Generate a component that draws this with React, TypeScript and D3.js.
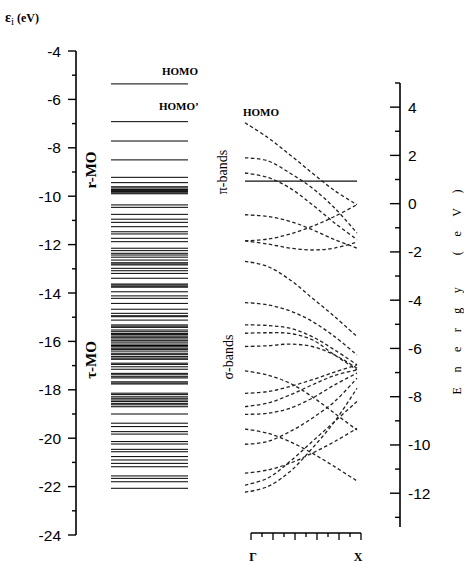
import React from "react";
import * as d3 from "d3";

const W = 464;
const H = 563;

// Molecular-orbital eigenvalues of the cluster (eV), top to bottom
const moLevels = [
  -5.36, -6.92, -7.72, -8.5, -9.22, -9.44, -9.61, -9.66, -9.72, -9.77, -9.81, -9.86, -9.9,
  -10.36, -10.46, -10.75, -10.95, -11.08, -11.26, -11.47, -11.56, -11.74, -11.88,
  -12.15, -12.25, -12.36, -12.43, -12.52, -12.64, -12.75, -12.8, -12.84, -12.98,
  -13.08, -13.19, -13.39, -13.63, -13.67, -13.72, -13.76, -13.95,
  -14.12, -14.22, -14.43, -14.67, -14.84, -14.94, -14.98,
  -15.12, -15.32, -15.37, -15.42, -15.53, -15.6, -15.67, -15.72, -15.78, -15.83, -15.9, -15.97,
  -16.03, -16.11, -16.17, -16.22, -16.28, -16.33, -16.4, -16.49, -16.55, -16.63, -16.69, -16.74,
  -16.9, -16.95, -17.05, -17.15, -17.32, -17.38, -17.46, -17.51, -17.67, -17.72, -17.76,
  -18.14, -18.2, -18.29, -18.35, -18.42, -18.48, -18.56, -18.62, -18.7,
  -19.0, -19.38, -19.52, -19.73, -19.83,
  -20.14, -20.24, -20.46, -20.56, -20.76, -20.9,
  -21.04, -21.18, -21.56, -21.66, -21.8, -22.07,
];
const homoLevel = -5.36;
const homoPrimeLevel = -6.92;

// Wave-vector samples from Γ (0) to X (1)
const kPoints = [0, 0.2, 0.4, 0.6, 0.8, 1.0];

// π bands (eV) at each k point
const piBands = [
  [3.35, 2.75, 2.03, 1.27, 0.54, -0.04],
  [1.9, 1.78, 1.27, 0.65, -0.18, -1.22],
  [1.27, 1.09, 0.65, -0.04, -0.8, -1.49],
  [-0.46, -0.53, -0.73, -1.08, -1.49, -1.84],
  [-1.54, -1.47, -1.26, -0.94, -0.53, -0.04],
  [-1.54, -1.67, -1.84, -1.92, -1.84, -1.59],
  [-2.39, -2.6, -3.15, -3.91, -4.68, -5.51],
];
// dispersionless band
const flatBand = [0.93, 0.93, 0.93, 0.93, 0.93, 0.93];

// σ bands (eV) at each k point
const sigmaBands = [
  [-4.1, -4.19, -4.44, -4.88, -5.51, -6.27],
  [-5.02, -5.05, -5.16, -5.51, -6.06, -6.68],
  [-5.37, -5.35, -5.38, -5.64, -6.27, -6.89],
  [-5.92, -5.89, -5.82, -5.92, -6.27, -6.82],
  [-6.93, -7.1, -7.44, -8.0, -8.69, -9.38],
  [-7.86, -7.79, -7.58, -7.3, -6.98, -6.68],
  [-8.41, -8.27, -7.93, -7.51, -7.12, -6.89],
  [-8.73, -8.69, -8.48, -8.06, -7.51, -7.02],
  [-9.34, -9.51, -9.86, -10.34, -10.9, -11.49],
  [-9.97, -9.86, -9.45, -8.89, -8.2, -7.23],
  [-11.17, -11.04, -10.76, -10.34, -9.86, -9.31],
  [-11.66, -11.38, -10.69, -9.86, -9.03, -8.2],
  [-11.96, -11.73, -11.11, -10.14, -9.03, -7.65],
];

const leftTickValues = d3.range(-24, -3, 1);
const rightTickValues = d3.range(-13, 6, 1);
const kTickValues = d3.range(0, 11, 1).map((i) => i / 10);

const sans = "Liberation Sans, Arial, sans-serif";
const serif = "Liberation Serif, Times New Roman, serif";

export default function App() {
  const yL = d3.scaleLinear().domain([-24, -4]).range([535, 51]);
  const yR = d3.scaleLinear().domain([-13.4, 5]).range([527, 83]);
  const xB = d3.scaleLinear().domain([0, 1]).range([245, 357]);
  const xK = d3.scaleLinear().domain([0, 1]).range([251, 361]);

  const leftAxisX = 76;
  const rightAxisX = 400;
  const bottomAxisY = 533;
  const moX0 = 111;
  const moX1 = 188;

  const band = d3
    .line<number>()
    .x((_, i) => xB(kPoints[i]))
    .y((d) => yR(d))
    .curve(d3.curveCatmullRom.alpha(0.5));

  return (
    <svg width={W} height={H} style={{ display: "block", position: "absolute", left: 0, top: 0, background: "#fff" }}>
      <rect width={W} height={H} fill="#fff" />

      {/* left energy scale */}
      <text x={5} y={22} fontFamily={serif} fontWeight="bold" fontSize={14} fill="#000">
        ε<tspan fontSize={11} fontWeight="normal" dy={3}>i</tspan>
        <tspan fontSize={12} dy={-3}> (eV)</tspan>
      </text>
      <line x1={leftAxisX} x2={leftAxisX} y1={yL(-4)} y2={yL(-24)} stroke="#000" strokeWidth={1.6} />
      {leftTickValues.map((v) => {
        const major = v % 2 === 0;
        return (
          <g key={`lt${v}`}>
            <line x1={leftAxisX - (major ? 8 : 4)} x2={leftAxisX} y1={yL(v)} y2={yL(v)} stroke="#000" strokeWidth={1.4} />
            {major && (
              <text x={61} y={yL(v) + 5.5} textAnchor="end" fontFamily={sans} fontSize={15.5} fill="#000">
                {v}
              </text>
            )}
          </g>
        );
      })}

      {/* MO levels */}
      {moLevels.map((v, i) => (
        <line key={`mo${i}`} x1={moX0} x2={moX1} y1={yL(v)} y2={yL(v)} stroke="#000" strokeWidth={1} />
      ))}
      <text x={162} y={75} fontFamily={serif} fontWeight="bold" fontSize={11} fill="#000">HOMO</text>
      <text x={159} y={yL(homoPrimeLevel) - 12} fontFamily={serif} fontWeight="bold" fontSize={11} fill="#000">HOMO’</text>
      <text transform={`translate(96, 170) rotate(-90)`} textAnchor="middle" fontFamily={serif} fontWeight="bold" fontSize={15} fill="#000">
        r-MO
      </text>
      <text transform={`translate(96, 360) rotate(-90)`} textAnchor="middle" fontFamily={serif} fontWeight="bold" fontSize={15} fill="#000">
        τ-MO
      </text>

      {/* band structure */}
      <text x={243} y={116} fontFamily={serif} fontWeight="bold" fontSize={11} fill="#000">HOMO</text>
      <text transform={`translate(227, 172) rotate(-90)`} textAnchor="middle" fontFamily={serif} fontSize={14} fill="#000">
        π-bands
      </text>
      <text transform={`translate(233, 357) rotate(-90)`} textAnchor="middle" fontFamily={serif} fontSize={14} fill="#000">
        σ-bands
      </text>
      <path d={band(flatBand) ?? ""} fill="none" stroke="#111" strokeWidth={1.2} />
      {[...piBands, ...sigmaBands].map((b, i) => (
        <path key={`b${i}`} d={band(b) ?? ""} fill="none" stroke="#222" strokeWidth={1.3} strokeDasharray="3.5 2.5" />
      ))}

      {/* k axis */}
      <line x1={xK(0)} x2={xK(1)} y1={bottomAxisY} y2={bottomAxisY} stroke="#000" strokeWidth={1.5} />
      {kTickValues.map((k, i) => (
        <line key={`kt${i}`} x1={xK(k)} x2={xK(k)} y1={bottomAxisY} y2={bottomAxisY + (i % 2 === 0 ? 7 : 4)} stroke="#000" strokeWidth={1.3} />
      ))}
      <text x={xK(0) + 2} y={561} textAnchor="middle" fontFamily={serif} fontWeight="bold" fontSize={12} fill="#000">Γ</text>
      <text x={xK(1) - 3} y={561} textAnchor="middle" fontFamily={serif} fontWeight="bold" fontSize={12} fill="#000">X</text>

      {/* right energy scale */}
      <line x1={rightAxisX} x2={rightAxisX} y1={yR(5)} y2={yR(-13.4)} stroke="#000" strokeWidth={1.6} />
      {rightTickValues.map((v) => {
        const major = v % 2 === 0;
        return (
          <g key={`rt${v}`}>
            <line x1={rightAxisX - (major ? 10 : 5)} x2={rightAxisX} y1={yR(v)} y2={yR(v)} stroke="#000" strokeWidth={1.4} />
            {major && (
              <text x={rightAxisX + 8} y={yR(v) + 5.5} fontFamily={sans} fontSize={15.5} fill="#000">
                {v}
              </text>
            )}
          </g>
        );
      })}
      <text
        transform={`translate(461, 292) rotate(-90)`}
        textAnchor="middle"
        fontFamily={serif}
        fontSize={12}
        fill="#000"
        textLength={205}
        lengthAdjust="spacing"
      >
        Energy (eV)
      </text>
    </svg>
  );
}
